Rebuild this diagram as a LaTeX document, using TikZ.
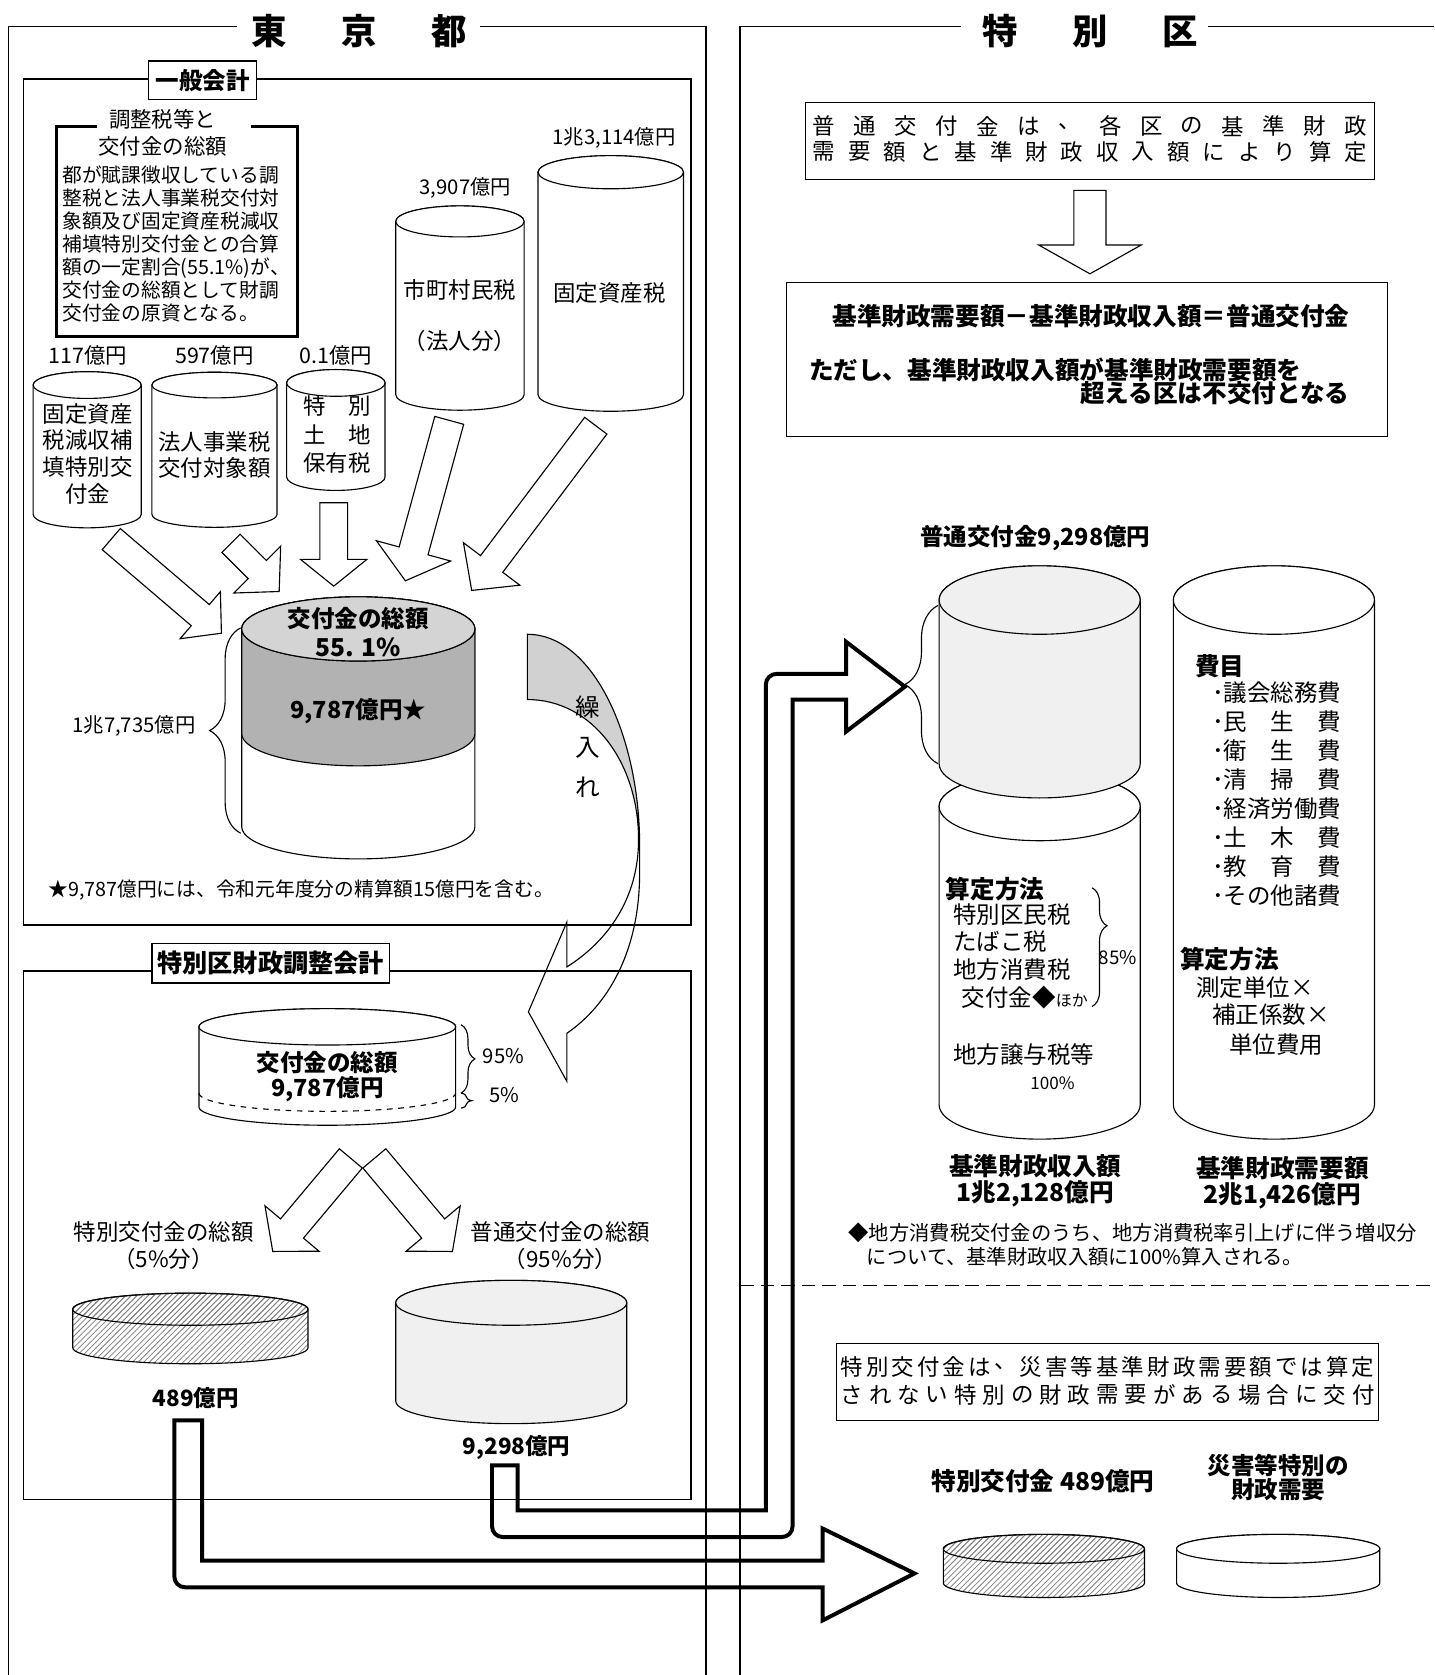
\documentclass[tikz,border=0pt]{standalone}
\usepackage{fontspec}
\setmainfont{Noto Sans CJK JP}
\usetikzlibrary{calc,patterns,decorations.pathreplacing}
\tikzset{
  every node/.style={inner sep=0pt},
  t16/.style={font=\fontsize{9.1}{11}\selectfont},
  t17/.style={font=\fontsize{10}{12}\selectfont},
  t18/.style={font=\fontsize{10.5}{12.25}\selectfont},
  t19/.style={font=\fontsize{10.8}{13}\selectfont},
  t20/.style={font=\fontsize{11.4}{14.2}\selectfont},
  t21/.style={font=\fontsize{11.95}{14.2}\selectfont},
  t22/.style={font=\fontsize{12.5}{15.4}\selectfont},
  b21/.style={font=\fontsize{11.95}{14}\selectfont\bfseries},
  b22/.style={font=\fontsize{12.5}{14.2}\selectfont\bfseries},
  b23/.style={font=\fontsize{13.1}{14}\selectfont\bfseries},
  ttl/.style={font=\fontsize{18.8}{20}\selectfont\bfseries},
  frame/.style={line width=0.8pt},
  thin/.style={line width=0.6pt},
  cylw/.style={fill=white, line width=0.6pt},
  cylg/.style={fill=black!6, line width=0.6pt},
  hatch/.style={pattern=north east lines, pattern color=black!50, line width=0.6pt},
  barrow/.style={draw, fill=white, line width=0.6pt},
  fatarrow/.style={line width=2.1pt},
  tagbox/.style={draw, fill=white, line width=0.8pt},
  brc/.style={decorate, decoration={brace, amplitude=#1}, line width=0.6pt},
}
\newcommand\drawcyl[6][cylw]{%
  \filldraw[#1] ({#2-#5},#3) -- ({#2-#5},#4) arc (180:0:#5 and #6) -- ({#2+#5},#3) arc (0:-180:#5 and #6) -- cycle;
  \filldraw[#1] (#2,#3) ellipse (#5 and #6);
}
\newcommand\blockarrow[5]{%
  \coordinate (ba-back) at ($(#2)!#5!(#1)$);
  \draw[barrow] ($(#1)!#3!90:(#2)$) -- ($(ba-back)!#3!90:(#2)$) -- ($(ba-back)!#4!90:(#2)$) -- (#2) -- ($(ba-back)!#4!-90:(#2)$) -- ($(ba-back)!#3!-90:(#2)$) -- ($(#1)!#3!-90:(#2)$) -- cycle;
}
\begin{document}
\begin{tikzpicture}[x=0.02cm, y=-0.02cm]
\useasboundingbox (0,0) rectangle (1341,1566);
\fill[white] (0,0) rectangle (1341,1566);

\draw[frame] (222,25) -- (8,25) -- (8,1566);
\draw[frame] (449,25) -- (660,25) -- (660,1566);
\draw[frame] (898,25) -- (692,25) -- (692,1566);
\draw[frame] (1129,25) -- (1341,25);
\node[ttl] (tokyo) at (336,29) {東\hspace{1.02cm}京\hspace{1.02cm}都};
\node[ttl] (ku) at (1019,29) {特\hspace{1.02cm}別\hspace{1.02cm}区};

\draw[frame] (22,74) rectangle (646,865);
\node[tagbox, b22, minimum width=2.02cm, minimum height=0.72cm] (ippan) at (189.5,75) {一般会計};

\draw[line width=1.6pt] (91,118) -- (53,118) -- (53,315) -- (278,315) -- (278,118) -- (235,118);
\node[t20] (chosei1) at (152,112) {調整税等と};
\node[t20] (chosei2) at (152,137) {交付金の総額};
\node[font=\fontsize{10.5}{12.25}\selectfont, align=left, anchor=west] (chosei) at (58,228.5) {都が賦課徴収している調\\整税と法人事業税交付対\\象額及び固定資産税減収\\補填特別交付金との合算\\額の一定割合(55.1\%)が、\\交付金の総額として財調\\交付金の原資となる。};

\node[t19] (v13114) at (574,129) {1兆3,114億円};
\node[t19] (v3907) at (435,176) {3,907億円};
\node[t20] (v117) at (82,332) {117億円};
\node[t20] (v597) at (200.5,332) {597億円};
\node[t20] (v01) at (314,332) {0.1億円};

\drawcyl{571}{161}{369}{68}{15.5}
\drawcyl{430}{207}{369}{60}{14.5}
\drawcyl{81.5}{360}{481}{50.5}{12.5}
\drawcyl{200.5}{360}{481}{58.5}{12}
\drawcyl{314}{358}{446}{46}{12.5}

\node[t21] (kotei) at (570,274) {固定資産税};
\node[t21] (shichoson) at (430,271) {市町村民税};
\node[t21] (hojinbun) at (430,319) {（法人分）};
\node[font=\fontsize{11.95}{14.2}\selectfont, align=center] (genshu) at (82,424) {固定資産\\税減収補\\填特別交\\付金};
\node[t21, align=center] (hojinji) at (200.5,425.5) {法人事業税\\交付対象額};
\node[font=\fontsize{11.95}{15.1}\selectfont, align=center] (tochi) at (315,406.5) {特　別\\土　地\\保有税};

\coordinate (a1s) at (104,504); \coordinate (a1e) at (207,592);
\coordinate (a2s) at (216,508); \coordinate (a2e) at (261,553);
\coordinate (a3s) at (312,470); \coordinate (a3e) at (312,548);
\coordinate (a4s) at (420,393); \coordinate (a4e) at (379,543);
\coordinate (a5s) at (557,398); \coordinate (a5e) at (441,552);
\blockarrow{a1s}{a1e}{0.26cm}{0.58cm}{0.52cm}
\blockarrow{a2s}{a2e}{0.24cm}{0.62cm}{0.58cm}
\blockarrow{a3s}{a3e}{0.26cm}{0.62cm}{0.5cm}
\blockarrow{a4s}{a4e}{0.28cm}{0.72cm}{0.58cm}
\blockarrow{a5s}{a5e}{0.26cm}{0.66cm}{0.62cm}

\drawcyl{335}{588}{773}{109}{30}
\filldraw[fill=black!30, thin] (226,588) -- (226,686) arc (180:0:109 and 30) -- (444,588) arc (0:180:109 and 30) -- cycle;
\filldraw[fill=black!17, thin] (335,588) ellipse (109 and 30);
\node[b22] (sougaku) at (335,578) {交付金の総額};
\node[b23] (pct) at (335,605) {55. 1\%};
\node[b22] (v9787) at (335,665) {9,787億円★};
\draw[brc=0.58cm] (225,779) -- (225,587);
\node[t19, anchor=east] (v17735) at (183,679) {1兆7,735億円};
\node[t18, anchor=west] (note1) at (45,832) {★9,787億円には、令和元年度分の精算額15億円を含む。};

\fill[black!18] (493,593) .. controls (555,593) and (598,690) .. (598,790) -- (597,785) .. controls (597,712) and (553,654) .. (493,654) -- cycle;
\draw[thin] (493,593) .. controls (555,593) and (598,690) .. (598,790) -- (598,816) .. controls (598,890) and (568,940) .. (530,966) -- (530,1011) -- (494,946) -- (530,862) -- (530,904) .. controls (568,880) and (597,840) .. (597,785) .. controls (597,712) and (553,654) .. (493,654) -- cycle;
\node[font=\fontsize{13.1}{21.1}\selectfont, align=center] (kuriire) at (550,698) {繰\\入\\れ};

\draw[frame] (22,908) rectangle (646,1402);
\node[tagbox, font=\fontsize{13.4}{14}\selectfont\bfseries, minimum width=4.44cm, minimum height=0.74cm] (chosei-kaikei) at (253,900.5) {特別区財政調整会計};

\drawcyl{306}{960}{1035}{120}{17}
\draw[thin, dashed] (186,1022) arc (180:0:120 and 17);
\node[b22] (sougaku2) at (306,993) {交付金の総額};
\node[b22] (v9787b) at (306,1018) {9,787億円};
\draw[brc=0.26cm] (431,958) -- (431,1022);
\node[t19, anchor=west] (p95) at (451,987) {95\%};
\draw[brc=0.2cm] (431,1022) -- (431,1036);
\node[t19, anchor=west] (p5) at (457,1024) {5\%};

\coordinate (sls) at (328,1083); \coordinate (sle) at (255,1170);
\coordinate (srs) at (350,1083); \coordinate (sre) at (423,1170);
\blockarrow{sls}{sle}{0.28cm}{0.66cm}{0.56cm}
\blockarrow{srs}{sre}{0.28cm}{0.66cm}{0.56cm}
\node[t21, align=center] (tokusou) at (153,1164.5) {特別交付金の総額\\（5\%分）};
\node[t21, align=center] (futsusou) at (524,1164.5) {普通交付金の総額\\（95\%分）};

\drawcyl[hatch]{178}{1224}{1260}{110}{15}
\node[b21] (v489) at (183,1307) {489億円};
\drawcyl[cylg]{478}{1218}{1310}{108}{21}
\node[b21] (v9298) at (483,1353) {9,298億円};

\draw[thin] (753,96) rectangle (1285,168);
\foreach \c [count=\i from 0] in {普,通,交,付,金,は,、,各,区,の,基,準,財,政}
  \node[t21] (ra\i) at ({770.5+\i*38.23},118) {\c};
\foreach \c [count=\i from 0] in {需,要,額,と,基,準,財,政,収,入,額,に,よ,り,算,定}
  \node[t21] (rb\i) at ({770.5+\i*33.13},142) {\c};
\coordinate (das) at (1019,178); \coordinate (dae) at (1019,256);
\blockarrow{das}{dae}{0.3cm}{0.96cm}{0.54cm}
\draw[thin] (735,264) rectangle (1297,408);
\node[b23] (shiki) at (1020,296) {基準財政需要額－基準財政収入額＝普通交付金};
\node[b23, anchor=west] (tadashi) at (756,346) {ただし、基準財政収入額が基準財政需要額を};
\node[b23, anchor=east] (koeru) at (1262,368) {超える区は不交付となる};

\node[b22] (v9298r) at (968,503) {普通交付金9,298億円};
\drawcyl{972}{754}{1033}{94}{32}
\drawcyl[cylg]{972}{561}{714}{94}{32}
\drawcyl{1191}{561}{1033}{94}{32}
\draw[brc=0.62cm] (877,714) -- (877,566);

\node[b23, anchor=west] (himoku) at (1117,623) {費目};
\node[t22, anchor=west, align=left, font=\fontsize{12.5}{15.4}\selectfont] (items) at (1133,742.5) {･議会総務費\\･民　生　費\\･衛　生　費\\･清　掃　費\\･経済労働費\\･土　木　費\\･教　育　費\\･その他諸費};
\node[b23, anchor=west] (santei2) at (1103,897) {算定方法};
\node[t22, anchor=west] (sokutei) at (1118,923) {測定単位×};
\node[t22, anchor=west] (hosei) at (1133,949) {補正係数×};
\node[t22, anchor=west] (tanka) at (1149,977) {単位費用};

\node[b23, anchor=west] (santei1) at (884,831) {算定方法};
\node[anchor=west, align=left, font=\fontsize{12.5}{14.8}\selectfont] (zeimoku) at (891,894) {特別区民税\\たばこ税\\地方消費税\\\hspace{0.16cm}交付金◆{\fontsize{8.5}{10}\selectfont ほか}};
\draw[brc=0.28cm, decoration={aspect=0.32}] (1021,830) -- (1021,941);
\node[t17, anchor=west] (p85) at (1027,895) {85\%};
\node[t22, anchor=west] (joyo) at (891,986) {地方譲与税等};
\node[t16] (p100) at (984,1013) {100\%};

\node[b23, align=center, font=\fontsize{13.1}{13.7}\selectfont\bfseries] (shunyu) at (968,1104) {基準財政収入額\\1兆2,128億円};
\node[b23, align=center, font=\fontsize{13.1}{13.7}\selectfont\bfseries] (juyo) at (1199,1105.5) {基準財政需要額\\2兆1,426億円};
\node[t19, anchor=west] (note2a) at (793,1153) {◆地方消費税交付金のうち、地方消費税率引上げに伴う増収分};
\node[t19, anchor=west] (note2b) at (810,1175) {について、基準財政収入額に100\%算入される。};

\draw[frame, dash pattern=on 7.3pt off 3.6pt] (692,1202) -- (1341,1202);

\draw[thin] (782,1256) rectangle (1289,1328);
\foreach \c [count=\i from 0] in {特,別,交,付,金,は,、,災,害,等,基,準,財,政,需,要,額,で,は,算,定}
  \node[t21] (rc\i) at ({796.5+\i*23.9},1278) {\c};
\foreach \c [count=\i from 0] in {さ,れ,な,い,特,別,の,財,政,需,要,が,あ,る,場,合,に,交,付}
  \node[t21] (rd\i) at ({796.5+\i*26.56},1304) {\c};

\node[b23] (toku489) at (975,1385) {特別交付金 489億円};
\node[b22, align=center, font=\fontsize{12.5}{13.1}\selectfont\bfseries] (saigai) at (1195,1381.5) {災害等特別の\\財政需要};
\drawcyl[hatch]{976}{1448}{1480}{94}{13.5}
\drawcyl{1195}{1448}{1480}{95}{13.5}

\coordinate (fa-s) at (472,1370); \coordinate (fa-e) at (846,642);
\coordinate (fb-s) at (176,1328); \coordinate (fb-e) at (855,1471);
\draw[fatarrow] (460,1370) -- (460,1427) arc (180:90:10) -- (731,1437) arc (90:0:10) -- (741,654) -- (791,654) -- (791,684) -- (fa-e) -- (791,600) -- (791,630) -- (726,630) arc (-90:-180:10) -- (716,1412) -- (484,1412) -- (484,1370) -- cycle;
\draw[fatarrow] (163,1328) -- (163,1474) arc (180:90:10) -- (769,1484) -- (769,1515) -- (fb-e) -- (769,1429) -- (769,1459) -- (189,1459) -- (189,1328) -- cycle;
\end{tikzpicture}
\end{document}
